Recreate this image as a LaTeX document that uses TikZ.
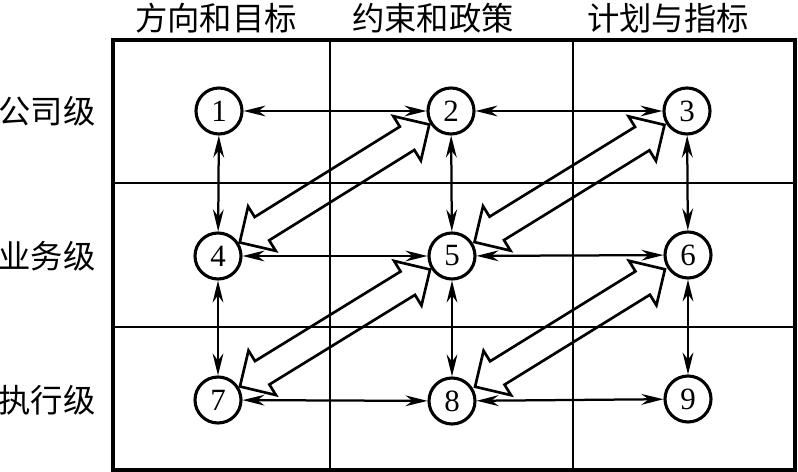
\documentclass[tikz,border=0pt]{standalone}
\usepackage{fontspec}
\setmainfont{Liberation Serif}
\newfontfamily\cjk{Noto Sans CJK SC}
\usetikzlibrary{arrows.meta, shapes.arrows}

\begin{document}
\begin{tikzpicture}[
    x=0.025cm, y=-0.025cm,
    num/.style={
        draw,
        circle,
        line width=2.2pt,
        minimum size=1.15cm,
        inner sep=0pt,
        font=\fontsize{22}{22}\selectfont
    },
    head/.style={
        font=\cjk\fontsize{23}{23}\selectfont
    },
    arrow/.style={
        {Stealth[length=0.55cm,width=0.27cm]}-{Stealth[length=0.55cm,width=0.27cm]},
        line width=1.6pt
    },
    wide/.style={
        double arrow,
        draw,
        sloped,
        line width=1.9pt,
        minimum height=5.58cm,
        inner sep=0pt,
        inner ysep=0.31cm,
        double arrow head extend=0.31cm,
        double arrow tip angle=90
    }
]
\useasboundingbox (0,0) rectangle (798,472);

% Grid
\draw[line width=2.3pt] (113,40) rectangle (795,470);
\draw[line width=1.6pt] (330,40) -- (330,470);
\draw[line width=1.6pt] (573,40) -- (573,470);
\draw[line width=1.6pt] (113,183) -- (795,183);
\draw[line width=1.6pt] (113,327) -- (795,327);

% Headings
\node[head] (dir) at (216,18) {方向和目标};
\node[head] (rule) at (433,18) {约束和政策};
\node[head] (plan) at (668,18) {计划与指标};
\node[head] (corp) at (47,111) {公司级};
\node[head] (biz) at (47,256) {业务级};
\node[head] (exe) at (47,400) {执行级};

% Level 1
\node[num] (n1) at (219,111) {1};
\node[num] (n2) at (451,111) {2};
\node[num] (n3) at (687,111) {3};

% Level 2
\node[num] (n4) at (218,256) {4};
\node[num] (n5) at (452,256) {5};
\node[num] (n6) at (688,255) {6};

% Level 3
\node[num] (n7) at (218,400) {7};
\node[num] (n8) at (452,401) {8};
\node[num] (n9) at (688,399) {9};

\draw[arrow] (n1) -- (n2);
\draw[arrow] (n2) -- (n3);
\draw[arrow] (n4) -- (n5);
\draw[arrow] (n5) -- (n6);
\draw[arrow] (n7) -- (n8);
\draw[arrow] (n8) -- (n9);

\draw[arrow] (n1) -- (n4);
\draw[arrow] (n4) -- (n7);
\draw[arrow] (n2) -- (n5);
\draw[arrow] (n5) -- (n8);
\draw[arrow] (n3) -- (n6);
\draw[arrow] (n6) -- (n9);

% Wide arrows
\path (n4) -- node[wide] (w1) {} (n2);
\path (n5) -- node[wide] (w2) {} (n3);
\path (n7) -- node[wide] (w3) {} (n5);
\path (n8) -- node[wide] (w4) {} (n6);

\end{tikzpicture}
\end{document}
